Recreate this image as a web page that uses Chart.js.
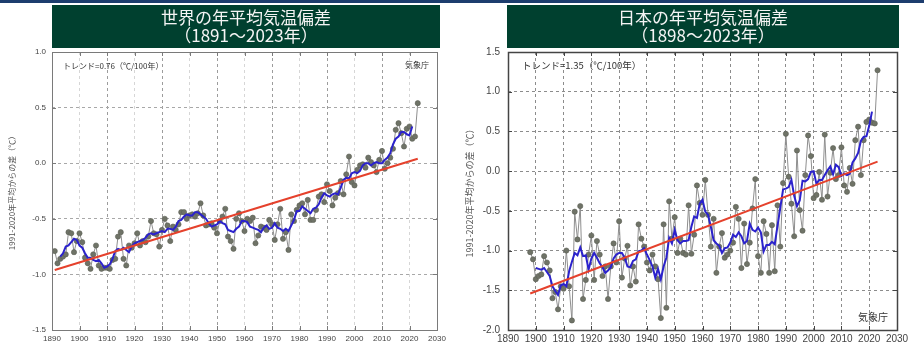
<!DOCTYPE html>
<html lang="ja">
<head>
<meta charset="utf-8">
<title>年平均気温偏差</title>
<script src="https://cdn.jsdelivr.net/npm/chart.js@4/dist/chart.umd.min.js"></script>
<style>
  html, body { margin: 0; padding: 0; background: #fff; }
  body { width: 924px; height: 347px; position: relative; overflow: hidden; font-family: "Noto Sans CJK JP", sans-serif; }
  .barra { position: absolute; left: 0; top: 0; width: 924px; height: 3px; background: #1d3d6e; }
  .titulo { position: absolute; top: 5px; height: 43px; background: #00402f; color: #f4f4f4; text-align: center;
            font-size: 17px; line-height: 18px; padding-top: 3px; box-sizing: border-box; z-index: 2; }
  canvas { position: absolute; top: 0; }
  .nota { position: absolute; color: #333; white-space: nowrap; z-index: 2; line-height: 1; }
</style>
</head>
<body>
<div class="barra"></div>
<div class="titulo" style="left:52px;width:388px;">世界の年平均気温偏差<br>（1891～2023年）</div>
<div class="titulo" style="left:507px;width:392px;">日本の年平均気温偏差<br>（1898～2023年）</div>

<canvas id="graficaMundo" width="462" height="347" style="left:0px"></canvas>
<canvas id="graficaJapon" width="462" height="347" style="left:462px"></canvas>

<div class="nota" style="left:63px;top:62px;font-size:8px;">トレンド=0.76（℃/100年）</div>
<div class="nota" style="left:405px;top:61px;font-size:8px;">気象庁</div>
<div class="nota" style="left:522px;top:61px;font-size:9.5px;">トレンド=1.35（℃/100年）</div>
<div class="nota" style="left:858px;top:312px;font-size:10px;">気象庁</div>

<script>
// eje x comun (años)
const ticksAnios = [1890, 1900, 1910, 1920, 1930, 1940, 1950, 1960, 1970, 1980, 1990, 2000, 2010, 2020, 2030];

// ---- 世界: 1991-2020年平均からの差 (℃) ----
const mundoInicio = 1891;
const mundoAnomalia = [
  -0.79, -0.90, -0.86, -0.84, -0.82, -0.62, -0.63, -0.80, -0.70, -0.63, // 1891-1900
  -0.71, -0.85, -0.90, -0.95, -0.82, -0.74, -0.92, -0.95, -0.94, -0.94, // 1901-1910
  -0.95, -0.87, -0.86, -0.66, -0.62, -0.86, -0.92, -0.74, -0.76, -0.72, // 1911-1920
  -0.63, -0.74, -0.70, -0.71, -0.66, -0.52, -0.63, -0.64, -0.75, -0.60, // 1921-1930
  -0.50, -0.56, -0.70, -0.57, -0.60, -0.55, -0.44, -0.44, -0.50, -0.47, // 1931-1940
  -0.46, -0.48, -0.45, -0.36, -0.47, -0.56, -0.55, -0.54, -0.58, -0.63, // 1941-1950
  -0.52, -0.48, -0.41, -0.66, -0.70, -0.77, -0.50, -0.45, -0.52, -0.61, // 1951-1960
  -0.50, -0.52, -0.49, -0.72, -0.65, -0.57, -0.58, -0.60, -0.51, -0.55, // 1961-1970
  -0.69, -0.55, -0.41, -0.68, -0.62, -0.78, -0.46, -0.52, -0.42, -0.38, // 1971-1980
  -0.36, -0.46, -0.33, -0.51, -0.51, -0.42, -0.30, -0.28, -0.35, -0.19, // 1981-1990
  -0.25, -0.38, -0.31, -0.27, -0.16, -0.28, -0.10, 0.06, -0.17, -0.20,  // 1991-2000
  -0.06, -0.02, -0.01, -0.04, 0.05, 0.01, -0.02, -0.08, 0.03, 0.11,     // 2001-2010
  -0.05, 0.00, 0.05, 0.13, 0.30, 0.36, 0.27, 0.15, 0.31, 0.33,          // 2011-2020
  0.22, 0.24, 0.54                                                      // 2021-2023
];
// 5年移動平均 (1893-2021)
const mundoMediaInicio = 1893;
const mundoMedia5 = [
  -0.84, -0.81, -0.75, -0.74, -0.71, -0.68, -0.69, -0.74,               // 1893-1900
  -0.76, -0.81, -0.85, -0.85, -0.87, -0.88, -0.87, -0.90, -0.94, -0.93, // 1901-1910
  -0.91, -0.86, -0.79, -0.77, -0.78, -0.76, -0.78, -0.80, -0.75, -0.72, // 1911-1920
  -0.71, -0.70, -0.69, -0.67, -0.64, -0.63, -0.64, -0.63, -0.62, -0.61, // 1921-1930
  -0.62, -0.59, -0.59, -0.60, -0.57, -0.52, -0.51, -0.48, -0.46, -0.47, // 1931-1940
  -0.47, -0.44, -0.44, -0.46, -0.48, -0.50, -0.54, -0.57, -0.56, -0.55, // 1941-1950
  -0.52, -0.54, -0.55, -0.60, -0.61, -0.62, -0.59, -0.57, -0.52, -0.52, // 1951-1960
  -0.53, -0.57, -0.58, -0.59, -0.60, -0.62, -0.58, -0.56, -0.59, -0.58, // 1961-1970
  -0.54, -0.58, -0.59, -0.61, -0.59, -0.61, -0.56, -0.51, -0.43, -0.43, // 1971-1980
  -0.39, -0.41, -0.43, -0.45, -0.41, -0.40, -0.37, -0.31, -0.27, -0.29, // 1981-1990
  -0.30, -0.28, -0.27, -0.28, -0.22, -0.15, -0.13, -0.14, -0.09, -0.08, // 1991-2000
  -0.09, -0.07, -0.02, 0.00, 0.00, -0.02, 0.00, 0.01, 0.00, 0.00,       // 2001-2010
  0.03, 0.05, 0.09, 0.17, 0.22, 0.24, 0.28, 0.28, 0.26, 0.25,           // 2011-2020
  0.33                                                                  // 2021
];
// tendencia 0.76℃/100年 (extremos)
const mundoTendencia = [[1891, -0.96], [2023, 0.04]];
const ticksMundoY = [1.0, 0.5, 0.0, -0.5, -1.0, -1.5];

// ---- 日本: 1991-2020年平均からの差 (℃) ----
const japonInicio = 1898;
const japonAnomalia = [
  -1.02, -1.11, -1.36,                                                  // 1898-1900
  -1.32, -1.30, -1.07, -1.15, -1.25, -1.60, -1.52, -1.74, -1.45, -1.48, // 1901-1910
  -1.00, -1.45, -1.88, -0.51, -0.86, -0.44, -1.61, -1.37, -1.05, -0.81, // 1911-1920
  -1.37, -0.88, -1.05, -1.32, -1.20, -1.61, -1.20, -0.91, -1.15, -0.63, // 1921-1930
  -1.34, -1.10, -0.94, -1.44, -1.20, -1.39, -0.67, -0.85, -0.95, -1.15, // 1931-1940
  -1.25, -1.05, -1.20, -1.36, -1.85, -0.67, -1.72, -0.38, -0.85, -0.58, // 1941-1950
  -1.03, -0.85, -1.03, -1.05, -0.43, -1.04, -0.80, -0.18, -0.40, -0.55, // 1951-1960
  -0.11, -0.55, -0.95, -0.60, -1.28, -0.95, -0.78, -1.09, -1.05, -1.00, // 1961-1970
  -0.90, -0.45, -0.60, -1.22, -0.66, -1.17, -0.90, -0.47, -0.10, -1.07, // 1971-1980
  -1.28, -0.63, -0.79, -1.28, -0.68, -1.26, -0.43, -0.95, -0.15, 0.47,  // 1981-1990
  -0.07, -0.41, -0.82, 0.26, -0.49, -0.75, -0.05, 0.45, 0.19, -0.34,    // 1991-2000
  -0.30, -0.01, -0.36, 0.46, -0.32, -0.02, 0.29, -0.10, -0.05, 0.30,    // 2001-2010
  -0.18, -0.26, 0.04, -0.16, 0.39, 0.56, -0.05, 0.39, 0.62, 0.65,       // 2011-2020
  0.61, 0.60, 1.27                                                      // 2021-2023
];
// 5年移動平均 (1900-2021)
const japonMediaInicio = 1900;
const japonMedia5 = [
  -1.22,                                                                // 1900
  -1.23, -1.24, -1.22, -1.27, -1.32, -1.45, -1.51, -1.56, -1.44, -1.42, // 1901-1910
  -1.45, -1.26, -1.14, -1.03, -1.06, -0.96, -1.07, -1.06, -1.24, -1.10, // 1911-1920
  -1.03, -1.09, -1.16, -1.21, -1.28, -1.25, -1.21, -1.10, -1.05, -1.03, // 1921-1930
  -1.03, -1.09, -1.20, -1.21, -1.13, -1.11, -1.01, -1.00, -0.97, -1.05, // 1931-1940
  -1.12, -1.20, -1.34, -1.23, -1.36, -1.20, -1.09, -0.84, -0.91, -0.74, // 1941-1950
  -0.87, -0.91, -0.88, -0.88, -0.87, -0.70, -0.57, -0.59, -0.41, -0.36, // 1951-1960
  -0.51, -0.55, -0.70, -0.87, -0.91, -0.94, -1.03, -0.97, -0.96, -0.90, // 1961-1970
  -0.80, -0.83, -0.77, -0.82, -0.91, -0.88, -0.66, -0.74, -0.76, -0.71, // 1971-1980
  -0.77, -1.01, -0.93, -0.93, -0.89, -0.92, -0.69, -0.46, -0.23, -0.22, // 1981-1990
  -0.20, -0.11, -0.31, -0.44, -0.37, -0.12, -0.13, -0.10, -0.01, 0.00,  // 1991-2000
  -0.16, -0.11, -0.11, -0.05, 0.01, 0.06, -0.04, 0.08, 0.05, -0.06,     // 2001-2010
  -0.03, -0.05, -0.03, 0.11, 0.16, 0.23, 0.38, 0.43, 0.44, 0.57,        // 2011-2020
  0.75                                                                  // 2021
];
// tendencia 1.35℃/100年
const japonTendencia = [[1898, -1.54], [2023, 0.12]];
const ticksJaponY = [1.5, 1.0, 0.5, 0.0, -0.5, -1.0, -1.5, -2.0];

const tituloEjeY = '1991-2020年平均からの差（℃）';

// serie -> puntos {x, y}
function aPuntos(inicio, valores) {
    return valores.map((v, i) => ({ x: inicio + i, y: v }));
}

// marco del area y marcas hacia dentro
const marco = {
    id: 'marco',
    afterDraw(chart, args, opts) {
        const { ctx, chartArea: a, scales } = chart;
        ctx.save();
        ctx.strokeStyle = opts.color;
        ctx.lineWidth = 1;
        ctx.beginPath();
        scales.x.ticks.forEach((t) => {
            const px = Math.round(scales.x.getPixelForValue(t.value)) + 0.5;
            ctx.moveTo(px, a.top); ctx.lineTo(px, a.top + 4);
            ctx.moveTo(px, a.bottom); ctx.lineTo(px, a.bottom - 4);
        });
        scales.y.ticks.forEach((t) => {
            const py = Math.round(scales.y.getPixelForValue(t.value)) + 0.5;
            ctx.moveTo(a.left, py); ctx.lineTo(a.left + 4, py);
            ctx.moveTo(a.right, py); ctx.lineTo(a.right - 4, py);
        });
        ctx.stroke();
        ctx.lineWidth = opts.width;
        ctx.strokeRect(a.left + 0.5, a.top + 0.5, a.right - a.left, a.bottom - a.top);
        ctx.restore();
    }
};

function prepararConfiguracion(c) {
    return {
        type: 'line',
        data: {
            datasets: [
                {
                    label: 'トレンド',
                    data: c.tendencia.map(([x, y]) => ({ x, y })),
                    borderColor: '#e5412c',
                    borderWidth: 2,
                    pointRadius: 0
                },
                {
                    label: '5年移動平均',
                    data: aPuntos(c.mediaInicio, c.media),
                    borderColor: '#2b22cc',
                    borderWidth: 2,
                    pointRadius: 0,
                    tension: 0
                },
                {
                    label: '偏差',
                    data: aPuntos(c.inicio, c.anomalia),
                    borderColor: '#8e8e8e',
                    borderWidth: 1,
                    pointRadius: c.radio,
                    pointBackgroundColor: '#6f7367',
                    pointBorderColor: '#5d6056',
                    pointBorderWidth: 0.6
                }
            ]
        },
        options: {
            responsive: false,
            animation: false,
            devicePixelRatio: 1,
            layout: { padding: { top: 52, right: c.derecha, left: 0, bottom: 0 } },
            plugins: {
                legend: { display: false },
                tooltip: { enabled: false },
                marco: { color: c.colorMarco, width: c.anchoMarco }
            },
            scales: {
                x: {
                    type: 'linear',
                    min: 1890,
                    max: 2030,
                    afterBuildTicks: (s) => { s.ticks = ticksAnios.map((v) => ({ value: v })); },
                    afterFit: (s) => { s.height = 17; },
                    grid: { drawTicks: false, color: c.colorGridX, lineWidth: 1 },
                    border: { display: false, dash: [3, 3] },
                    ticks: {
                        autoSkip: false, maxRotation: 0, padding: c.padX,
                        font: { family: 'Liberation Sans', size: c.fuenteX }, color: '#444',
                        callback: (v) => String(v)
                    }
                },
                y: {
                    min: c.ticksY[c.ticksY.length - 1],
                    max: c.ticksY[0],
                    afterBuildTicks: (s) => { s.ticks = c.ticksY.map((v) => ({ value: v })); },
                    afterFit: (s) => { s.width = c.anchoY; },
                    grid: { drawTicks: false, color: c.colorGridY, lineWidth: 1 },
                    border: { display: false, dash: [3, 3] },
                    ticks: {
                        padding: c.padY,
                        font: { family: 'Liberation Sans', size: c.fuenteY }, color: '#444',
                        callback: (v) => Number(v).toFixed(1)
                    },
                    title: {
                        display: true,
                        text: tituloEjeY,
                        color: '#555',
                        font: { family: 'Noto Sans CJK JP', size: c.fuenteTitulo },
                        padding: { top: c.padTitulo, bottom: 0 }
                    }
                }
            }
        },
        plugins: [marco]
    };
}

function renderGraficas() {
    const mundo = prepararConfiguracion({
        inicio: mundoInicio, anomalia: mundoAnomalia,
        mediaInicio: mundoMediaInicio, media: mundoMedia5,
        tendencia: mundoTendencia, ticksY: ticksMundoY,
        radio: 2.6, derecha: 25, anchoY: 52, padX: 4, padY: 6,
        fuenteX: 8, fuenteY: 8, fuenteTitulo: 8, padTitulo: 7,
        colorMarco: '#7a7a7a', anchoMarco: 1,
        colorGridX: (ctx) => (ctx.tick && ctx.tick.value % 20 === 10 ? '#9c9c9c' : '#d6d6d6'),
        colorGridY: '#a8a8a8'
    });
    const japon = prepararConfiguracion({
        inicio: japonInicio, anomalia: japonAnomalia,
        mediaInicio: japonMediaInicio, media: japonMedia5,
        tendencia: japonTendencia, ticksY: ticksJaponY,
        radio: 2.6, derecha: 27, anchoY: 46, padX: 3, padY: 8,
        fuenteX: 10, fuenteY: 10, fuenteTitulo: 9, padTitulo: 2,
        colorMarco: '#444', anchoMarco: 1.5,
        colorGridX: '#8c8c8c',
        colorGridY: '#8c8c8c'
    });
    new Chart(document.getElementById('graficaMundo'), mundo);
    new Chart(document.getElementById('graficaJapon'), japon);
}

renderGraficas();
</script>
</body>
</html>
